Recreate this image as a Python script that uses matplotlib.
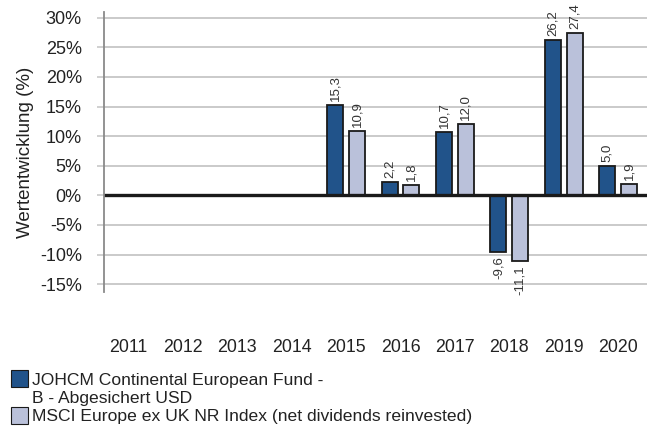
import matplotlib.pyplot as plt
from matplotlib.patches import Patch
import numpy as np

years = ['2011', '2012', '2013', '2014', '2015', '2016', '2017', '2018', '2019', '2020']
fund = [np.nan, np.nan, np.nan, np.nan, 15.3, 2.2, 10.7, -9.6, 26.2, 5.0]
index = [np.nan, np.nan, np.nan, np.nan, 10.9, 1.8, 12.0, -11.1, 27.4, 1.9]
yticks = [-15, -10, -5, 0, 5, 10, 15, 20, 25, 30]

fund_name = 'JOHCM Continental European Fund -'
fund_name2 = 'B - Abgesichert USD'
index_name = 'MSCI Europe ex UK NR Index (net dividends reinvested)'

dark = '#21538A'
light = '#BAC1DA'
text_col = '#222222'

plt.rcParams['font.family'] = ['Liberation Sans', 'DejaVu Sans']

fig = plt.figure(figsize=(6.47, 4.32), dpi=100)
ax = fig.add_axes([0.1607, 0.324, 0.8393, 0.648])

x = np.arange(len(years))
w = 0.294
off = 0.2
ax.bar(x - off, fund, w, color=dark, edgecolor='#1a1a1a', linewidth=1.3, zorder=3)
ax.bar(x + off, index, w, color=light, edgecolor='#1a1a1a', linewidth=1.3, zorder=3)

# value labels, rotated, comma decimals
for xs, vals in [(x - off, fund), (x + off, index)]:
    for xi, v in zip(xs, vals):
        if np.isnan(v):
            continue
        lab = f'{v:.1f}'.replace('.', ',')
        if v >= 0:
            ax.annotate(lab, (xi, v), xytext=(0, 3), textcoords='offset points',
                        rotation=90, ha='center', va='bottom', fontsize=9.5, color='#333333',
                        family=['Liberation Sans Narrow', 'Liberation Sans'])
        else:
            ax.annotate(lab, (xi, v), xytext=(0, -3), textcoords='offset points',
                        rotation=90, ha='center', va='top', fontsize=9.5, color='#333333',
                        family=['Liberation Sans Narrow', 'Liberation Sans'])

ax.set_xlim(-0.45, 9.53)
ax.set_ylim(-16.33, 30.96)
ax.set_yticks(yticks)
ax.set_yticklabels([f'{t}%' for t in yticks])
for t in yticks:
    if t != 0:
        ax.axhline(t, color='#CACACA', linewidth=1.4, zorder=1)
ax.axhline(0, color='#1a1a1a', linewidth=2.4, zorder=4)

ax.set_xticks(x)
ax.set_xticklabels(years)
ax.tick_params(axis='x', length=0, pad=34, labelsize=12.8, labelcolor=text_col)
ax.tick_params(axis='y', length=5, width=1.2, color='#C8C8C8', pad=11, labelsize=13,
               labelcolor=text_col)

for s in ['top', 'right', 'bottom']:
    ax.spines[s].set_visible(False)
ax.spines['left'].set_color('#8A8A8A')
ax.spines['left'].set_linewidth(1.3)
ax.spines['left'].set_zorder(5)

ax.set_ylabel('Wertentwicklung (%)', fontsize=13.5, color=text_col, labelpad=4)

handles = [Patch(facecolor=dark, edgecolor='#1a1a1a', linewidth=0.8),
           Patch(facecolor='none', edgecolor='none'),
           Patch(facecolor=light, edgecolor='#1a1a1a', linewidth=0.8)]
leg = fig.legend(handles, [fund_name, fund_name2, index_name], loc='lower left',
                 bbox_to_anchor=(0.017, 0.018), frameon=False, fontsize=12.6,
                 handlelength=1.0, handleheight=1.1, handletextpad=0.2,
                 labelspacing=0.05, borderaxespad=0, borderpad=0)
for t in leg.get_texts():
    t.set_color(text_col)

fig.savefig('out.png', dpi=100)
